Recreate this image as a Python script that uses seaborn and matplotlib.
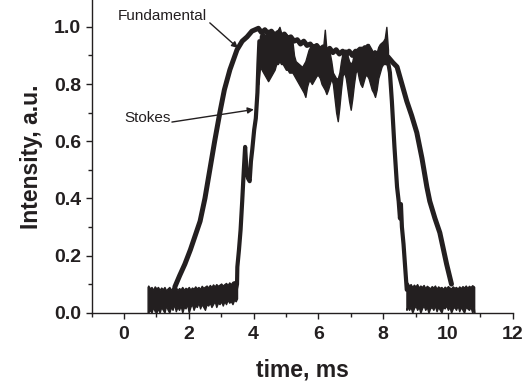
import matplotlib
matplotlib.use("Agg")
import matplotlib.pyplot as plt
import seaborn as sns
import pandas as pd
from matplotlib.ticker import MultipleLocator, FormatStrFormatter

# ---------------- data ----------------
# Fundamental pulse
fund_t = [1.57, 1.72, 1.88, 2.05, 2.20, 2.35, 2.50, 2.65, 2.80, 2.96, 3.10, 3.27, 3.49,
          3.65, 3.80, 3.95, 4.05, 4.15, 4.25, 4.35, 4.45, 4.55, 4.65, 4.75, 4.85, 4.95,
          5.05, 5.15, 5.25, 5.35, 5.45, 5.55, 5.65, 5.75, 5.85, 5.95, 6.05, 6.15, 6.25,
          6.35, 6.45, 6.55, 6.65, 6.75, 6.85, 6.95, 7.05, 7.15, 7.25, 7.35, 7.45, 7.55,
          7.65, 7.75, 7.85, 7.95, 8.05, 8.15, 8.30, 8.43, 8.58, 8.73, 8.88,
          9.04, 9.20, 9.35, 9.44, 9.60, 9.75, 9.96, 10.11]
fund_v = [0.09, 0.13, 0.17, 0.22, 0.27, 0.32, 0.40, 0.50, 0.60, 0.70, 0.78, 0.85, 0.92,
          0.95, 0.965, 0.985, 0.99, 0.995, 0.98, 0.99, 0.975, 0.985, 0.97, 0.98, 0.965, 0.975,
          0.96, 0.965, 0.95, 0.955, 0.94, 0.95, 0.935, 0.94, 0.925, 0.935, 0.92, 0.93, 0.915,
          0.925, 0.91, 0.92, 0.905, 0.915, 0.90, 0.915, 0.90, 0.915, 0.90, 0.91, 0.90, 0.915,
          0.895, 0.91, 0.895, 0.905, 0.89, 0.895, 0.875, 0.86, 0.80, 0.74, 0.69,
          0.63, 0.54, 0.44, 0.39, 0.33, 0.28, 0.17, 0.10]

# Stokes pulse: rising and falling edges (single trace)
stokes_rise_t = [3.45, 3.49, 3.50, 3.55, 3.60, 3.65, 3.70, 3.74, 3.78, 3.83, 3.88, 3.92,
                 3.96, 4.02, 4.07, 4.12, 4.15, 4.18]
stokes_rise_v = [0.08, 0.10, 0.16, 0.22, 0.29, 0.39, 0.50, 0.58, 0.50, 0.47, 0.46, 0.53,
                 0.57, 0.64, 0.68, 0.77, 0.87, 0.95]
stokes_fall_t = [8.15, 8.21, 8.27, 8.35, 8.43, 8.48, 8.52, 8.55, 8.58, 8.63, 8.68, 8.73]
stokes_fall_v = [0.88, 0.84, 0.74, 0.58, 0.44, 0.39, 0.33, 0.38, 0.30, 0.24, 0.16, 0.08]

# Stokes noisy plateau: upper / lower envelope of the trace
plat_t = [4.15, 4.20, 4.25, 4.30, 4.35, 4.40, 4.45, 4.50, 4.55, 4.60, 4.65, 4.70, 4.75,
          4.80, 4.85, 4.90, 4.95, 5.00, 5.05, 5.10, 5.15, 5.20, 5.25, 5.30, 5.35, 5.40,
          5.45, 5.50, 5.55, 5.60, 5.65, 5.70, 5.75, 5.80, 5.85, 5.90, 5.95, 6.00, 6.05,
          6.10, 6.15, 6.20, 6.25, 6.30, 6.35, 6.40, 6.45, 6.50, 6.55, 6.60, 6.65, 6.70,
          6.75, 6.80, 6.85, 6.90, 6.95, 7.00, 7.05, 7.10, 7.15, 7.20, 7.25, 7.30, 7.35,
          7.40, 7.45, 7.50, 7.55, 7.60, 7.65, 7.70, 7.75, 7.80, 7.85, 7.90, 7.95, 8.00,
          8.05, 8.10, 8.15]
plat_hi = [0.90, 0.97, 0.975, 0.98, 0.97, 0.975, 0.99, 0.985, 0.98, 0.985, 0.975, 0.98, 0.99,
           1.00, 0.98, 0.975, 0.98, 0.975, 0.97, 0.96, 0.955, 0.95, 0.90, 0.88, 0.875, 0.87,
           0.865, 0.86, 0.87, 0.88, 0.90, 0.92, 0.93, 0.935, 0.94, 0.935, 0.93, 0.93, 0.925,
           0.925, 0.93, 0.99, 0.92, 0.915, 0.91, 0.88, 0.84, 0.83, 0.82, 0.82, 0.84, 0.88,
           0.91, 0.92, 0.92, 0.90, 0.88, 0.87, 0.88, 0.91, 0.92, 0.925, 0.93, 0.93, 0.93,
           0.935, 0.935, 0.94, 0.94, 0.93, 0.92, 0.90, 0.89, 0.91, 0.93, 0.94, 0.945, 0.95,
           0.96, 1.00, 0.92]
plat_lo = [0.80, 0.86, 0.85, 0.84, 0.83, 0.82, 0.81, 0.82, 0.83, 0.84, 0.85, 0.87, 0.87,
           0.88, 0.87, 0.87, 0.86, 0.85, 0.85, 0.84, 0.84, 0.84, 0.83, 0.82, 0.81, 0.80,
           0.79, 0.78, 0.77, 0.755, 0.79, 0.81, 0.81, 0.80, 0.81, 0.82, 0.83, 0.83, 0.82,
           0.80, 0.79, 0.78, 0.765, 0.78, 0.80, 0.82, 0.80, 0.75, 0.70, 0.67, 0.72, 0.78,
           0.83, 0.84, 0.82, 0.78, 0.74, 0.71, 0.75, 0.80, 0.84, 0.85, 0.82, 0.80, 0.79,
           0.81, 0.83, 0.83, 0.82, 0.80, 0.78, 0.77, 0.755, 0.78, 0.82, 0.84, 0.86, 0.87,
           0.87, 0.87, 0.86]

# Noisy baseline before the pulses: upper / lower envelope
base1_t = [0.73, 0.75, 0.80, 0.85, 0.90, 0.95, 1.00, 1.05, 1.10, 1.15, 1.20, 1.25, 1.30,
           1.35, 1.40, 1.45, 1.50, 1.55, 1.60, 1.65, 1.70, 1.75, 1.80, 1.85, 1.90, 1.95,
           2.00, 2.05, 2.10, 2.15, 2.20, 2.25, 2.30, 2.35, 2.40, 2.45, 2.50, 2.55, 2.60,
           2.65, 2.70, 2.75, 2.80, 2.85, 2.90, 2.95, 3.00, 3.05, 3.10, 3.15, 3.20, 3.25,
           3.30, 3.35, 3.40, 3.45, 3.49]
base1_hi = [0.09, 0.095, 0.085, 0.09, 0.08, 0.092, 0.085, 0.09, 0.08, 0.088, 0.082, 0.09,
            0.078, 0.085, 0.09, 0.08, 0.088, 0.084, 0.09, 0.079, 0.086, 0.082, 0.09, 0.08,
            0.087, 0.083, 0.09, 0.081, 0.088, 0.084, 0.092, 0.085, 0.09, 0.083, 0.094, 0.087,
            0.091, 0.095, 0.088, 0.097, 0.09, 0.099, 0.092, 0.10, 0.094, 0.098, 0.102, 0.095,
            0.10, 0.104, 0.097, 0.106, 0.10, 0.108, 0.11, 0.105, 0.11]
base1_lo = [0.0, 0.0, 0.01, 0.0, 0.02, 0.005, 0.0, 0.015, 0.0, 0.02, 0.01, 0.0, 0.025,
            0.01, 0.0, 0.02, 0.01, 0.03, 0.005, 0.02, 0.01, 0.025, 0.0, 0.02, 0.015, 0.03,
            0.0, 0.02, 0.03, 0.01, 0.025, 0.02, 0.035, 0.015, 0.03, 0.02, 0.01, 0.03, 0.025,
            0.035, 0.02, 0.03, 0.04, 0.02, 0.035, 0.03, 0.04, 0.025, 0.04, 0.03, 0.045, 0.035,
            0.04, 0.03, 0.045, 0.04, 0.05]

# Noisy baseline after the pulses: upper / lower envelope
base2_t = [8.72, 8.75, 8.80, 8.85, 8.90, 8.95, 9.00, 9.05, 9.10, 9.15, 9.20, 9.25, 9.30,
           9.35, 9.40, 9.45, 9.50, 9.55, 9.60, 9.65, 9.70, 9.75, 9.80, 9.85, 9.90, 9.95,
           10.00, 10.05, 10.10, 10.15, 10.20, 10.25, 10.30, 10.35, 10.40, 10.45, 10.50,
           10.55, 10.60, 10.65, 10.70, 10.75, 10.80, 10.81]
base2_hi = [0.10, 0.105, 0.095, 0.10, 0.09, 0.098, 0.092, 0.10, 0.088, 0.095, 0.09, 0.097,
            0.086, 0.094, 0.09, 0.085, 0.093, 0.088, 0.095, 0.084, 0.092, 0.087, 0.09, 0.083,
            0.091, 0.086, 0.093, 0.088, 0.085, 0.092, 0.087, 0.09, 0.084, 0.092, 0.086, 0.093,
            0.088, 0.095, 0.087, 0.094, 0.09, 0.096, 0.092, 0.09]
base2_lo = [0.01, 0.02, 0.01, 0.02, 0.0, 0.015, 0.025, 0.01, 0.02, 0.0, 0.015, 0.025,
            0.01, 0.02, 0.0, 0.015, 0.02, 0.01, 0.025, 0.005, 0.02, 0.01, 0.0, 0.02,
            0.015, 0.025, 0.01, 0.02, 0.0, 0.015, 0.02, 0.01, 0.025, 0.005, 0.02, 0.01,
            0.0, 0.02, 0.015, 0.01, 0.02, 0.0, 0.015, 0.0]

x_ticks = [0, 2, 4, 6, 8, 10, 12]
y_ticks = [0.0, 0.2, 0.4, 0.6, 0.8, 1.0]

# ---------------- style ----------------
sns.set_theme(style="ticks")
plt.rcParams["font.family"] = ["Liberation Sans", "DejaVu Sans"]
ink = "#231f20"

fig = plt.figure(figsize=(5.26, 3.84), dpi=100)
ax = fig.add_axes([0.1741, 0.1857, 0.8006, 0.8143])

# noise bands
for tt, hi, lo in [(base1_t, base1_hi, base1_lo),
                   (plat_t, plat_hi, plat_lo),
                   (base2_t, base2_hi, base2_lo)]:
    ax.fill_between(tt, lo, hi, color=ink, lw=1.0, edgecolor=ink)

# Stokes edges
stokes_df = pd.DataFrame({
    "t": stokes_rise_t + stokes_fall_t,
    "v": stokes_rise_v + stokes_fall_v,
    "seg": ["rise"] * len(stokes_rise_t) + ["fall"] * len(stokes_fall_t),
})
sns.lineplot(data=stokes_df, x="t", y="v", units="seg", estimator=None, sort=False,
             ax=ax, color=ink, lw=3.0)

# Fundamental
fund_df = pd.DataFrame({"t": fund_t, "v": fund_v})
sns.lineplot(data=fund_df, x="t", y="v", ax=ax, color=ink, lw=3.6,
             sort=False, estimator=None)

ax.set_xlim(-1, 12)
ax.set_ylim(0, 1.094)
ax.set_xticks(x_ticks)
ax.set_yticks(y_ticks)
ax.yaxis.set_major_formatter(FormatStrFormatter("%.1f"))
ax.xaxis.set_minor_locator(MultipleLocator(1))
ax.yaxis.set_minor_locator(MultipleLocator(0.1))

for s in ["top", "right"]:
    ax.spines[s].set_visible(False)
for s in ["left", "bottom"]:
    ax.spines[s].set_color(ink)
    ax.spines[s].set_linewidth(1.0)

ax.tick_params(which="major", direction="out", length=4.5, width=1.0, color=ink,
               labelsize=14, labelcolor=ink)
ax.tick_params(which="minor", direction="out", length=3, width=1.0, color=ink)
ax.tick_params(axis="x", which="major", pad=5)
ax.tick_params(axis="y", which="major", pad=3)
for lab in ax.get_xticklabels() + ax.get_yticklabels():
    lab.set_fontweight("bold")

ax.set_xlabel("time, ms", fontsize=16.5, fontweight="bold", color=ink, labelpad=11)
ax.set_ylabel("Intensity, a.u.", fontsize=16.5, fontweight="bold", color=ink, labelpad=8)

# annotations
arrow = dict(arrowstyle="-|>", color=ink, lw=1.0, mutation_scale=9, shrinkA=0, shrinkB=0)
ax.text(1.17, 1.038, "Fundamental", fontsize=11, color=ink, ha="center", va="center")
ax.annotate("", xy=(3.52, 0.926), xytext=(2.65, 1.014), arrowprops=arrow)
ax.text(0.74, 0.681, "Stokes", fontsize=11, color=ink, ha="center", va="center")
ax.annotate("", xy=(4.01, 0.711), xytext=(1.48, 0.667), arrowprops=arrow)

fig.savefig("out.png", dpi=100)
